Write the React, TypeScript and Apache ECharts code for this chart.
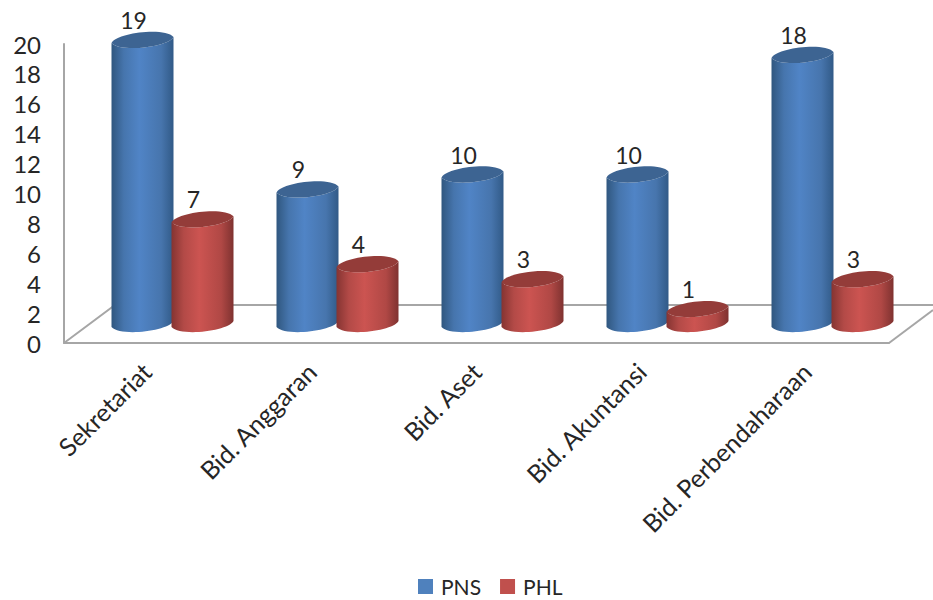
import React, { useEffect, useRef } from "react";
import * as echarts from "echarts";

const categories = ["Sekretariat", "Bid. Anggaran", "Bid. Aset", "Bid. Akuntansi", "Bid. Perbendaharaan"];
const pnsValues = [19, 9, 10, 10, 18];
const phlValues = [7, 4, 3, 1, 3];

const FONT = "Lato, 'Noto Sans', sans-serif";
const DEPTH_X = 26;
const DEPTH_Y = -19;
const RX = 31;
const BULGE = 10;
const INSET = 7;
const TILT = 3;
const LEAN = 2;

type Palette = { edgeL: string; side: string; mid: string; sideR: string; edgeR: string; cap: string };

const BLUE: Palette = {
  edgeL: "#30577f",
  side: "#4675ad",
  mid: "#5084c6",
  sideR: "#4775ad",
  edgeR: "#315a87",
  cap: "#3d6492",
};
const RED: Palette = {
  edgeL: "#853432",
  side: "#b34a47",
  mid: "#cc5451",
  sideR: "#b04845",
  edgeR: "#7f3230",
  cap: "#943c39",
};

// One cylinder: body with a horizontal shading, tilted oval cap and value label.
function cylinderRenderer(shift: number, pal: Palette) {
  return (_params: any, api: any) => {
    const cat = api.value(0);
    const val = api.value(1);
    const top = api.coord([cat, val]);
    const base = api.coord([cat, 0]);
    const cx = top[0] + DEPTH_X + shift;
    const yt = top[1] + DEPTH_Y;
    const yb = base[1] + DEPTH_Y;
    const l = cx - RX;
    const r = cx + RX;
    // Half-outlines of the oval, leaning along the tilted long axis.
    const lowerRtoL = (y: number) =>
      `C${r - INSET + LEAN} ${y - TILT + BULGE} ${l + INSET + LEAN} ${y + TILT + BULGE} ${l} ${y + TILT}`;
    const lowerLtoR = (y: number) =>
      `C${l + INSET + LEAN} ${y + TILT + BULGE} ${r - INSET + LEAN} ${y - TILT + BULGE} ${r} ${y - TILT}`;
    const upperLtoR = (y: number) =>
      `C${l + INSET - LEAN} ${y + TILT - BULGE} ${r - INSET - LEAN} ${y - TILT - BULGE} ${r} ${y - TILT}`;
    const body =
      `M${l} ${yt + TILT}L${l} ${yb + TILT}` +
      lowerLtoR(yb) +
      `L${r} ${yt - TILT}` +
      lowerRtoL(yt) +
      "Z";
    const cap = `M${l} ${yt + TILT}` + upperLtoR(yt) + lowerRtoL(yt) + "Z";
    const fill = new echarts.graphic.LinearGradient(0, 0, 1, 0, [
      { offset: 0, color: pal.edgeL },
      { offset: 0.2, color: pal.side },
      { offset: 0.45, color: pal.mid },
      { offset: 0.8, color: pal.sideR },
      { offset: 1, color: pal.edgeR },
    ]);
    return {
      type: "group",
      children: [
        { type: "path", shape: { pathData: body }, style: { fill } },
        { type: "path", shape: { pathData: cap }, style: { fill: pal.cap } },
        {
          type: "text",
          style: {
            x: cx - 9,
            y: yt - 20,
            text: String(val),
            fill: "#262626",
            font: `23px ${FONT}`,
            align: "center",
            verticalAlign: "middle",
          },
        },
      ],
    };
  };
}

export default function App() {
  const ref = useRef<HTMLDivElement>(null);

  useEffect(() => {
    const chart = echarts.init(ref.current!, undefined, { renderer: "svg" });
    const floorColor = "#a6a6a6";
    chart.setOption({
      animation: false,
      backgroundColor: "#ffffff",
      grid: { left: 64, top: 44, width: 825, height: 299 },
      xAxis: {
        type: "category",
        data: categories,
        axisLine: { lineStyle: { color: floorColor, width: 2 } },
        axisTick: { show: false },
        axisLabel: {
          rotate: 45,
          interval: 0,
          margin: 24,
          color: "#262626",
          fontFamily: FONT,
          fontSize: 25,
        },
      },
      yAxis: {
        type: "value",
        min: 0,
        max: 20,
        interval: 2,
        axisLine: { show: true, lineStyle: { color: floorColor, width: 2 } },
        axisTick: { show: false },
        splitLine: { show: false },
        axisLabel: {
          margin: 23,
          color: "#262626",
          fontFamily: FONT,
          fontSize: 24,
        },
      },
      legend: {
        left: 413,
        top: 571,
        padding: [5, 5, 0, 5],
        itemWidth: 15,
        itemHeight: 15,
        itemGap: 19,
        icon: "rect",
        textStyle: {
          color: "#262626",
          fontFamily: FONT,
          fontSize: 21,
          lineHeight: 18,
          padding: [0, 0, 0, 3],
        },
        data: ["PNS", "PHL"],
      },
      graphic: [
        {
          type: "polyline",
          z: 1,
          shape: { points: [[64, 343], [115, 305], [933, 305]] },
          style: { stroke: floorColor, lineWidth: 2, fill: "none" },
        },
        {
          type: "line",
          z: 1,
          shape: { x1: 889, y1: 343, x2: 933, y2: 310 },
          style: { stroke: floorColor, lineWidth: 2 },
        },
      ],
      series: [
        {
          name: "PNS",
          type: "custom",
          z: 5,
          itemStyle: { color: "#4f81bd" },
          renderItem: cylinderRenderer(-30, BLUE),
          data: pnsValues.map((v, i) => [i, v]),
        },
        {
          name: "PHL",
          type: "custom",
          z: 6,
          itemStyle: { color: "#c0504d" },
          renderItem: cylinderRenderer(30, RED),
          data: phlValues.map((v, i) => [i, v]),
        },
      ],
    });
    return () => chart.dispose();
  }, []);

  return <div ref={ref} style={{ position: "fixed", left: 0, top: 0, width: 933, height: 600 }} />;
}
